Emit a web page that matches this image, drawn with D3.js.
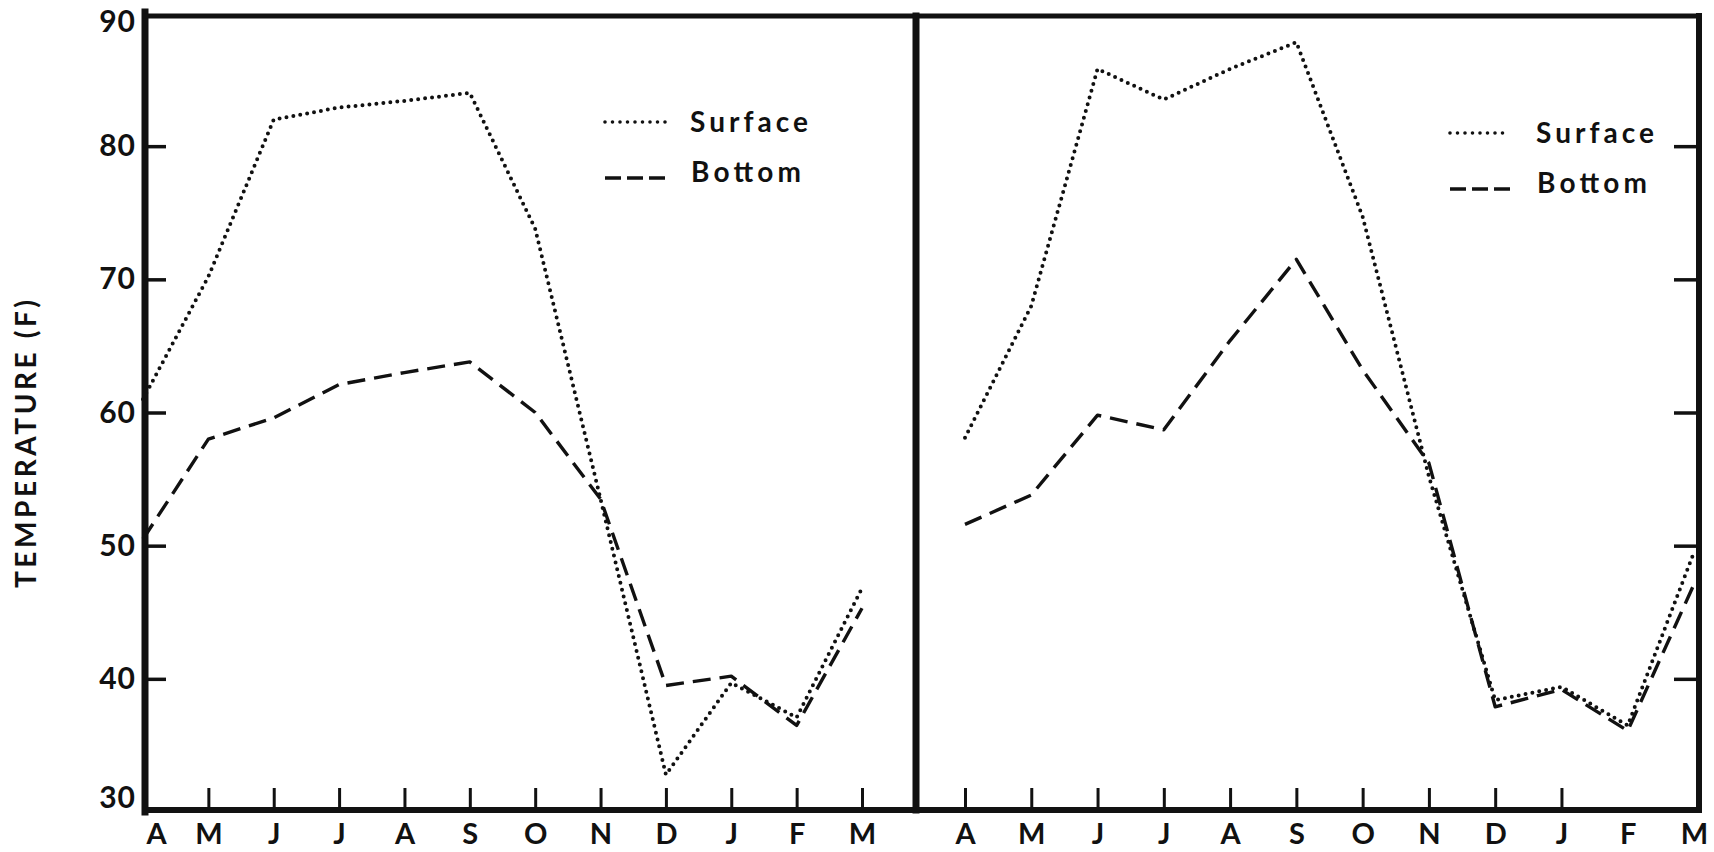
<!DOCTYPE html>
<html>
<head>
<meta charset="utf-8">
<script src="https://cdn.jsdelivr.net/npm/d3@7"></script>
<style>
  html, body { margin: 0; padding: 0; background: #fff; }
  svg { display: block; }
  text { font-family: Lato, 'Open Sans', sans-serif; font-weight: 700; fill: #111; }
</style>
</head>
<body>
<div id="chart"></div>
<script>
'use strict'

var width = 1714
var height = 852

// ============================ data ========================================================
var months = ['A', 'M', 'J', 'J', 'A', 'S', 'O', 'N', 'D', 'J', 'F', 'M']
var yTicks = [30, 40, 50, 60, 70, 80, 90]

var leftSurface = [61.0, 70.2, 82.0, 82.9, 83.4, 84.0, 73.8, 53.5, 32.8, 39.7, 37.1, 46.8]
var leftBottom = [50.5, 58.0, 59.6, 62.1, 63.0, 63.8, 60.0, 53.5, 39.5, 40.2, 36.5, 45.3]
var rightSurface = [58.1, 68.0, 85.8, 83.5, 85.8, 87.8, 74.7, 55.2, 38.4, 39.4, 36.5, 49.5]
var rightBottom = [51.6, 53.8, 59.8, 58.7, 65.4, 71.5, 63.2, 56.2, 37.9, 39.2, 36.1, 47.1]

var legendLabels = ['Surface', 'Bottom']

// ============================ layout ===================================
var y = d3.scaleLinear().domain([30, 90]).range([812, 13])
var xLeft = d3.scaleLinear().domain([0, 11]).range([143, 862])
var xRight = d3.scaleLinear().domain([0, 11]).range([965, 1694])

var frame = { left: 145, right: 1699, top: 16, bottom: 810, divider: 916 }

var styles = {
  surface: { dash: '0 7', width: 4, cap: 'round' },
  bottom: { dash: '18 9', width: 3.4, cap: 'butt' }
}

var panels = [
  { x: xLeft, surface: leftSurface, bottom: leftBottom, tickIdx: d3.range(1, 12), legend: [605, 667, 690, 122] },
  { x: xRight, surface: rightSurface, bottom: rightBottom, tickIdx: d3.range(0, 10), legend: [1450, 1510, 1536, 133] }
]

var svg = d3.select('#chart').append('svg')
  .attr('width', width)
  .attr('height', height)

svg.append('rect').attr('width', width).attr('height', height).attr('fill', '#fff')

panels.forEach(function (p, k) {
  var g = svg.append('g')

  var line = d3.line()
    .x(function (d, i) { return p.x(i) })
    .y(function (d) { return y(d) })

  // the two series
  ;[['surface', p.surface], ['bottom', p.bottom]].forEach(function (s) {
    var st = styles[s[0]]
    g.append('path')
      .datum(s[1])
      .attr('d', line)
      .attr('fill', 'none')
      .attr('stroke', '#111')
      .attr('stroke-width', st.width)
      .attr('stroke-dasharray', st.dash)
      .attr('stroke-linecap', st.cap)
      .attr('stroke-linejoin', 'round')
  })

  // month ticks (pointing up) and labels
  var xAxis = d3.axisBottom(p.x)
    .tickValues(d3.range(0, 12))
    .tickSizeInner(-22)
    .tickSizeOuter(0)
    .tickPadding(13.5)
    .tickFormat(function (i) { return months[i] })

  var ax = g.append('g')
    .attr('transform', 'translate(0,' + frame.bottom + ')')
    .call(xAxis)
  ax.select('.domain').remove()
  ax.selectAll('.tick line')
    .attr('stroke', '#111')
    .attr('stroke-width', 3)
    .attr('display', function (i) { return p.tickIdx.indexOf(i) < 0 ? 'none' : null })
  ax.selectAll('.tick text')
    .attr('font-size', 29)
    .attr('font-family', null)
    .attr('fill', '#111')
    .attr('dx', function (i) { return k === 0 && i === 0 ? 13 : 0 })

  // legend
  var lg = p.legend
  var lx0 = lg[0]
  var lx1 = lg[1]
  var tx = lg[2]
  var ly = lg[3]
  legendLabels.forEach(function (lab, j) {
    var st = j === 0 ? { dash: '0 7.5', width: 3.6, cap: 'round' } : { dash: '16 6', width: 3.4, cap: 'butt' }
    var yy = ly + j * 50
    g.append('line')
      .attr('x1', lx0).attr('x2', lx1)
      .attr('y1', yy + (j === 0 ? 0 : 6)).attr('y2', yy + (j === 0 ? 0 : 6))
      .attr('stroke', '#111')
      .attr('stroke-width', st.width)
      .attr('stroke-dasharray', st.dash)
      .attr('stroke-linecap', st.cap)
    g.append('text')
      .attr('x', tx + (j === 0 ? 0 : 1))
      .attr('y', yy + 10)
      .attr('font-size', 28)
      .attr('textLength', j === 0 ? 118 : 110)
      .attr('lengthAdjust', 'spacing')
      .text(lab)
  })
})

// left value axis: labels and inward ticks
var yLab = svg.append('g')
  .attr('transform', 'translate(' + frame.left + ',0)')
  .call(d3.axisLeft(y).tickValues(yTicks).tickSize(0).tickPadding(9))
yLab.select('.domain').remove()
yLab.selectAll('.tick text')
  .attr('font-size', 30)
  .attr('font-family', null)
  .attr('fill', '#111')
  .attr('letter-spacing', 1)
  .attr('dy', function (d) { return d === 30 ? '-0.15em' : d === 90 ? '0.6em' : '0.32em' })

var yL = svg.append('g')
  .attr('transform', 'translate(' + frame.left + ',0)')
  .call(d3.axisRight(y).tickValues([40, 50, 60, 70, 80]).tickSize(21).tickFormat(''))
yL.select('.domain').remove()
yL.selectAll('.tick line').attr('stroke', '#111').attr('stroke-width', 3.5)

var yR = svg.append('g')
  .attr('transform', 'translate(' + frame.right + ',0)')
  .call(d3.axisLeft(y).tickValues([40, 50, 60, 70, 80]).tickSize(25).tickFormat(''))
yR.select('.domain').remove()
yR.selectAll('.tick line').attr('stroke', '#111').attr('stroke-width', 3.5)

// frame
var fr = svg.append('g').attr('stroke', '#111').attr('stroke-linecap', 'square')
fr.append('line').attr('x1', frame.left).attr('x2', frame.left).attr('y1', 12).attr('y2', frame.bottom + 2).attr('stroke-width', 7)
fr.append('line').attr('x1', frame.left).attr('x2', frame.right).attr('y1', frame.top).attr('y2', frame.top).attr('stroke-width', 5)
fr.append('line').attr('x1', frame.divider).attr('x2', frame.divider).attr('y1', frame.top).attr('y2', frame.bottom).attr('stroke-width', 7)
fr.append('line').attr('x1', frame.right).attr('x2', frame.right).attr('y1', frame.top).attr('y2', frame.bottom).attr('stroke-width', 6)
fr.append('line').attr('x1', frame.left).attr('x2', frame.right).attr('y1', frame.bottom).attr('y2', frame.bottom).attr('stroke-width', 6)

// axis title
svg.append('text')
  .attr('transform', 'translate(36,444) rotate(-90)')
  .attr('text-anchor', 'middle')
  .attr('font-size', 28)
  .attr('textLength', 288)
  .attr('lengthAdjust', 'spacing')
  .text('TEMPERATURE (F)')
</script>
</body>
</html>
